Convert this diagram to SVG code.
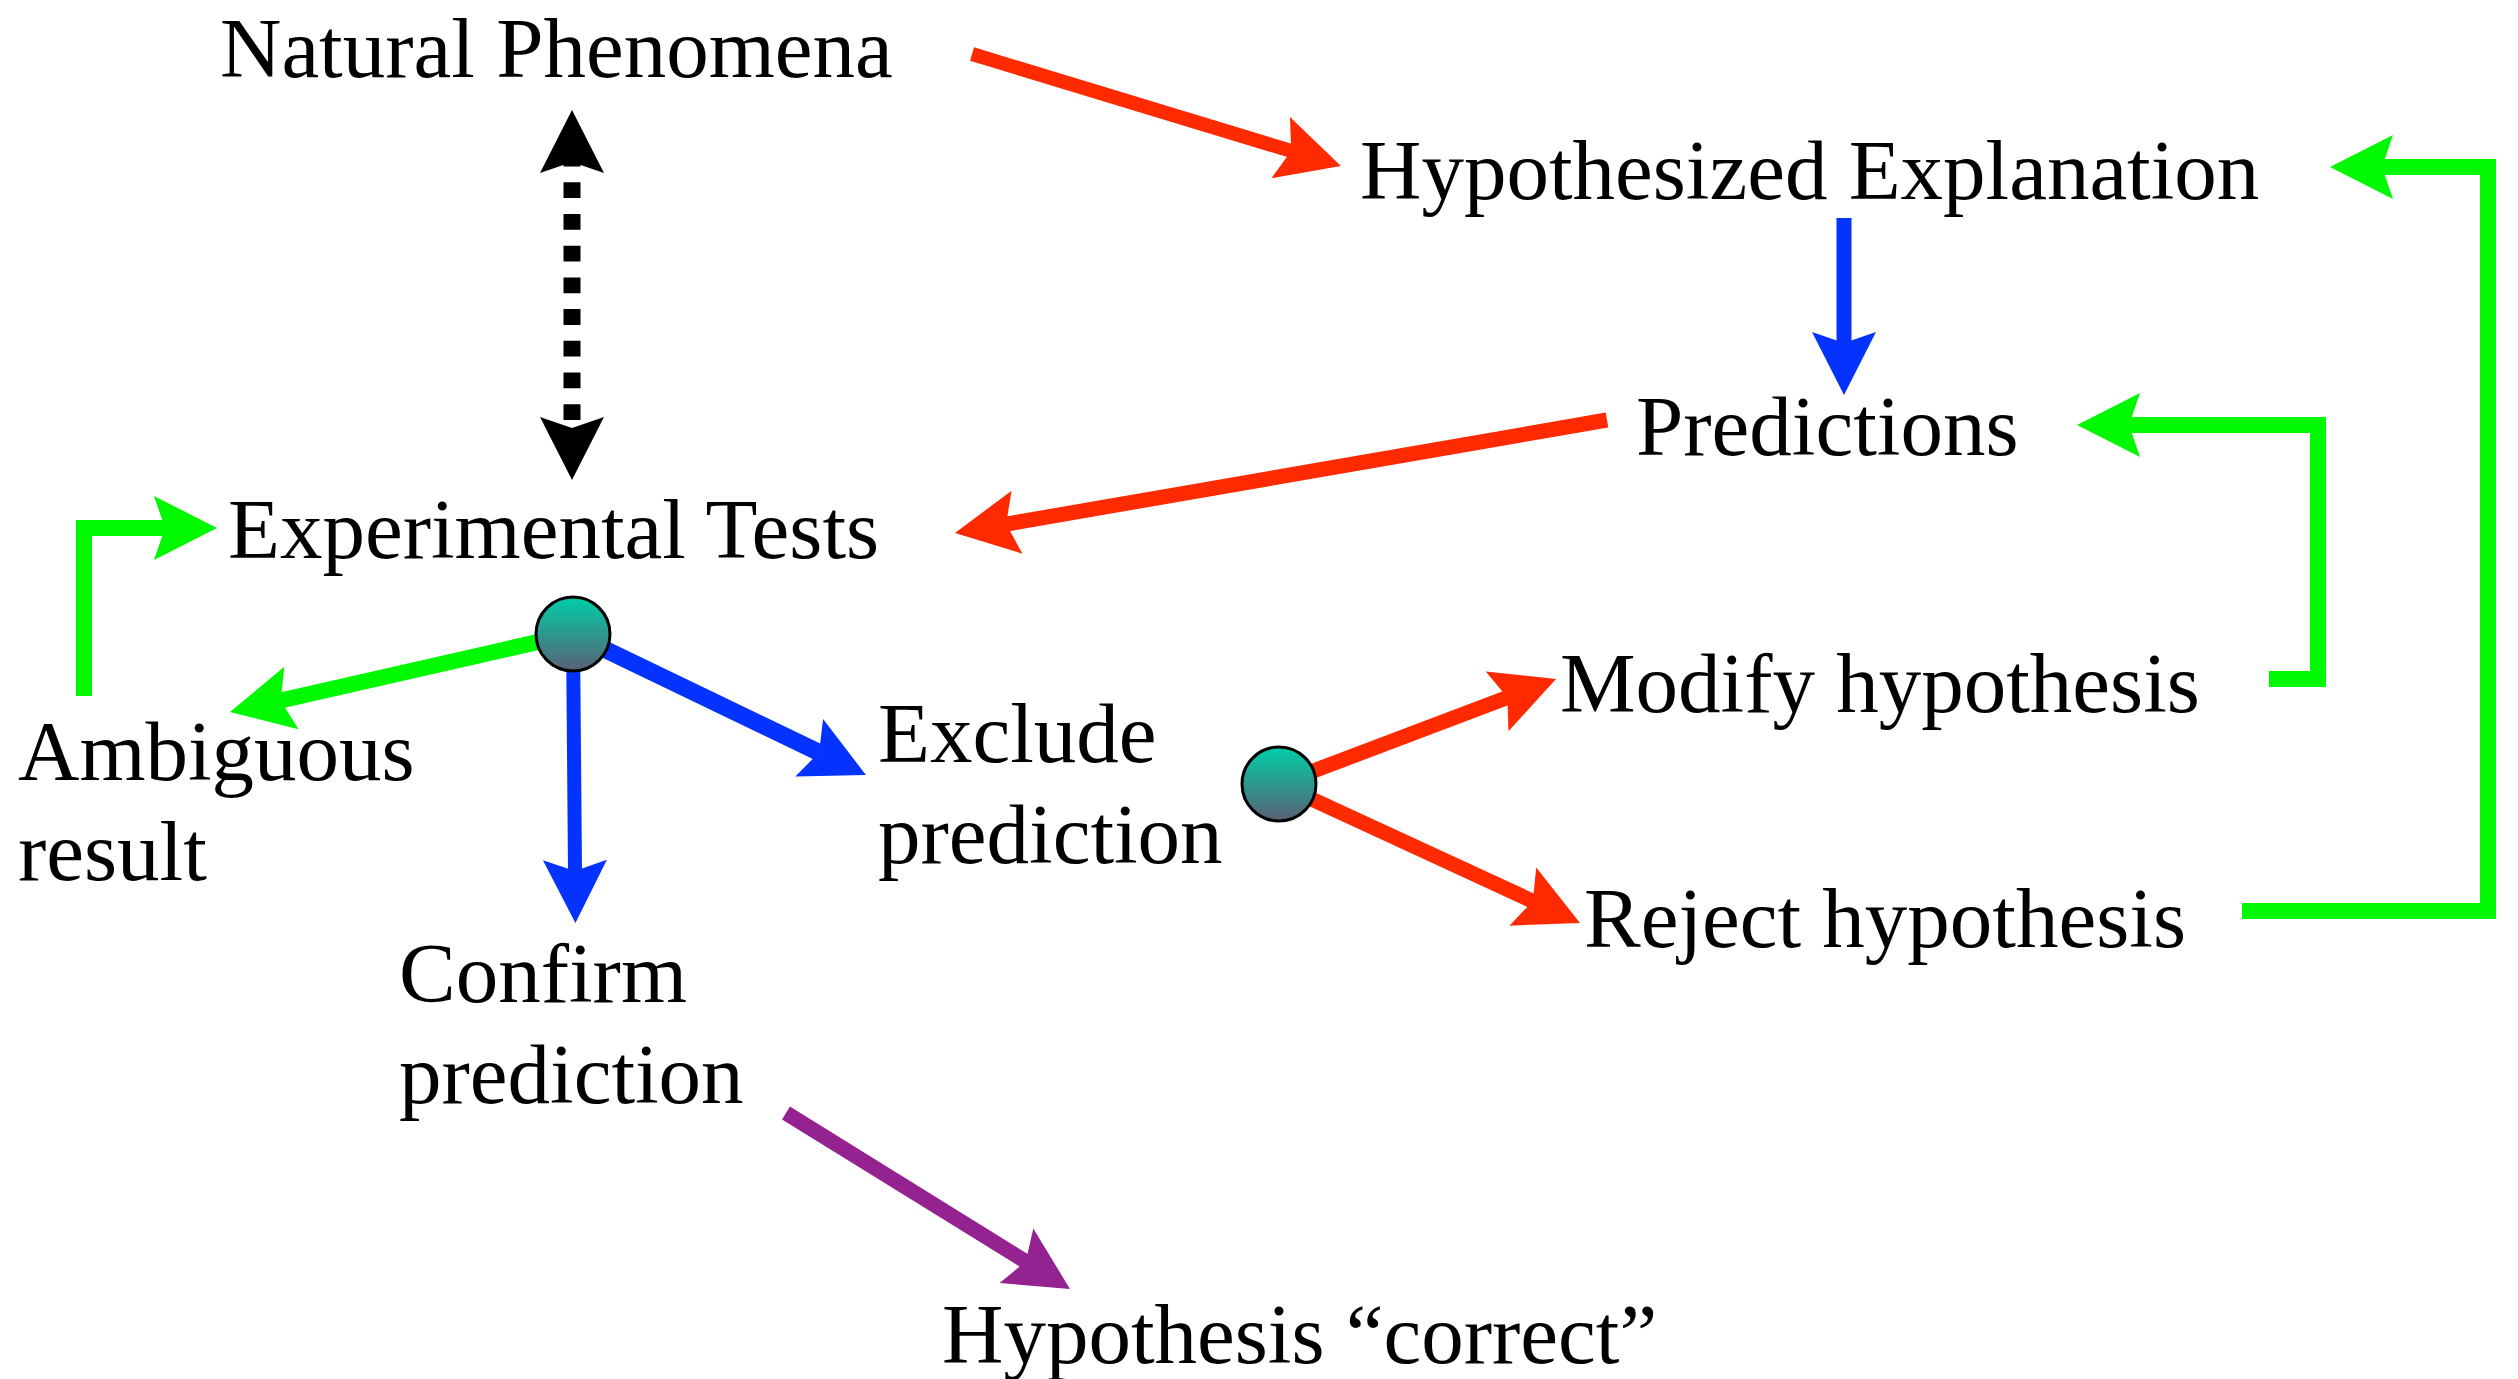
<svg xmlns="http://www.w3.org/2000/svg" width="2518" height="1379" viewBox="0 0 2518 1379">
<style>
text{font-family:"Liberation Serif","Times New Roman",serif;font-size:85px;fill:#000}
.c{fill:none;stroke-linecap:butt;stroke-linejoin:miter}
.red{stroke:#FF2A00}
.blue{stroke:#0433FF}
.green{stroke:#00F900}
.purple{stroke:#942290}
.dot{fill:url(#ball);stroke:#000;stroke-width:3}
</style>
<defs>
<linearGradient id="ball" x1="0" y1="0" x2="0" y2="1">
<stop offset="0" stop-color="#00CFA8"/>
<stop offset="1" stop-color="#5A6074"/>
</linearGradient>
<marker id="hRed" markerUnits="userSpaceOnUse" orient="auto" refX="0" refY="0" markerWidth="70" markerHeight="70" overflow="visible"><path d="M52,0 L-11,-32 L0,0 L-11,32 Z" fill="#FF2A00"/></marker>
<marker id="hBlue" markerUnits="userSpaceOnUse" orient="auto" refX="0" refY="0" markerWidth="70" markerHeight="70" overflow="visible"><path d="M52,0 L-11,-32 L0,0 L-11,32 Z" fill="#0433FF"/></marker>
<marker id="hGreen" markerUnits="userSpaceOnUse" orient="auto" refX="0" refY="0" markerWidth="70" markerHeight="70" overflow="visible"><path d="M52,0 L-11,-32 L0,0 L-11,32 Z" fill="#00F900"/></marker>
<marker id="hPurple" markerUnits="userSpaceOnUse" orient="auto" refX="0" refY="0" markerWidth="70" markerHeight="70" overflow="visible"><path d="M52,0 L-11,-32 L0,0 L-11,32 Z" fill="#942290"/></marker>
<marker id="hBlack" markerUnits="userSpaceOnUse" orient="auto" refX="0" refY="0" markerWidth="70" markerHeight="70" overflow="visible"><path d="M52,0 L-11,-32 L0,0 L-11,32 Z" fill="#000"/></marker>
</defs>

<g id="connectors">
<path class="c red" stroke-width="14" d="M972,54 L1291.2,150.9" marker-end="url(#hRed)"/>
<path class="c blue" stroke-width="15" d="M1844,218 L1844,343" marker-end="url(#hBlue)"/>
<path class="c red" stroke-width="15" d="M1607,420 L1006.2,524.1" marker-end="url(#hRed)"/>
<path class="c" stroke="#000" stroke-width="17" stroke-dasharray="15.8 15.9" d="M572,420 L572,162"/>
<path class="c" stroke="none" d="M572,200 L572,162" marker-end="url(#hBlack)"/>
<path class="c" stroke="none" d="M572,400 L572,428" marker-end="url(#hBlack)"/>
<path class="c green" stroke-width="16" d="M573,634 L280.7,700.5" marker-end="url(#hGreen)"/>
<path class="c blue" stroke-width="17" d="M573,634 L819.1,752.5" marker-end="url(#hBlue)"/>
<path class="c blue" stroke-width="14" d="M573,634 L575,871" marker-end="url(#hBlue)"/>
<path class="c green" stroke-width="16" d="M84,696 L84,528 L165,528" marker-end="url(#hGreen)"/>
<path class="c green" stroke-width="16" d="M2269,679 L2318,679 L2318,425 L2129,425" marker-end="url(#hGreen)"/>
<path class="c green" stroke-width="16" d="M2242,911 L2488,911 L2488,167 L2382,167" marker-end="url(#hGreen)"/>
<path class="c red" stroke-width="15" d="M1279,784 L1507.4,697.4" marker-end="url(#hRed)"/>
<path class="c red" stroke-width="15" d="M1279,784 L1532.8,901.2" marker-end="url(#hRed)"/>
<path class="c purple" stroke-width="15" d="M786,1113 L1025.8,1261.6" marker-end="url(#hPurple)"/>
</g>

<g id="natural-phenomena"><text x="220" y="77">Natural Phenomena</text></g>
<g id="hypothesized-explanation"><text x="1360" y="199">Hypothesized Explanation</text></g>
<g id="predictions"><text x="1636" y="455">Predictions</text></g>
<g id="experimental-tests"><text x="228" y="558">Experimental Tests</text></g>
<g id="test-junction"><circle class="dot" cx="573" cy="634" r="37"/></g>
<g id="ambiguous-result"><text x="18" y="780">Ambiguous</text><text x="18" y="880">result</text></g>
<g id="exclude-prediction"><text x="878" y="762">Exclude</text><text x="878" y="863">prediction</text></g>
<g id="exclude-junction"><circle class="dot" cx="1279" cy="784" r="37"/></g>
<g id="modify-hypothesis"><text x="1560" y="712">Modify hypothesis</text></g>
<g id="reject-hypothesis"><text x="1584" y="947">Reject hypothesis</text></g>
<g id="confirm-prediction"><text x="399" y="1002">Confirm</text><text x="399" y="1103">prediction</text></g>
<g id="hypothesis-correct"><text x="942" y="1363">Hypothesis “correct”</text></g>
</svg>
